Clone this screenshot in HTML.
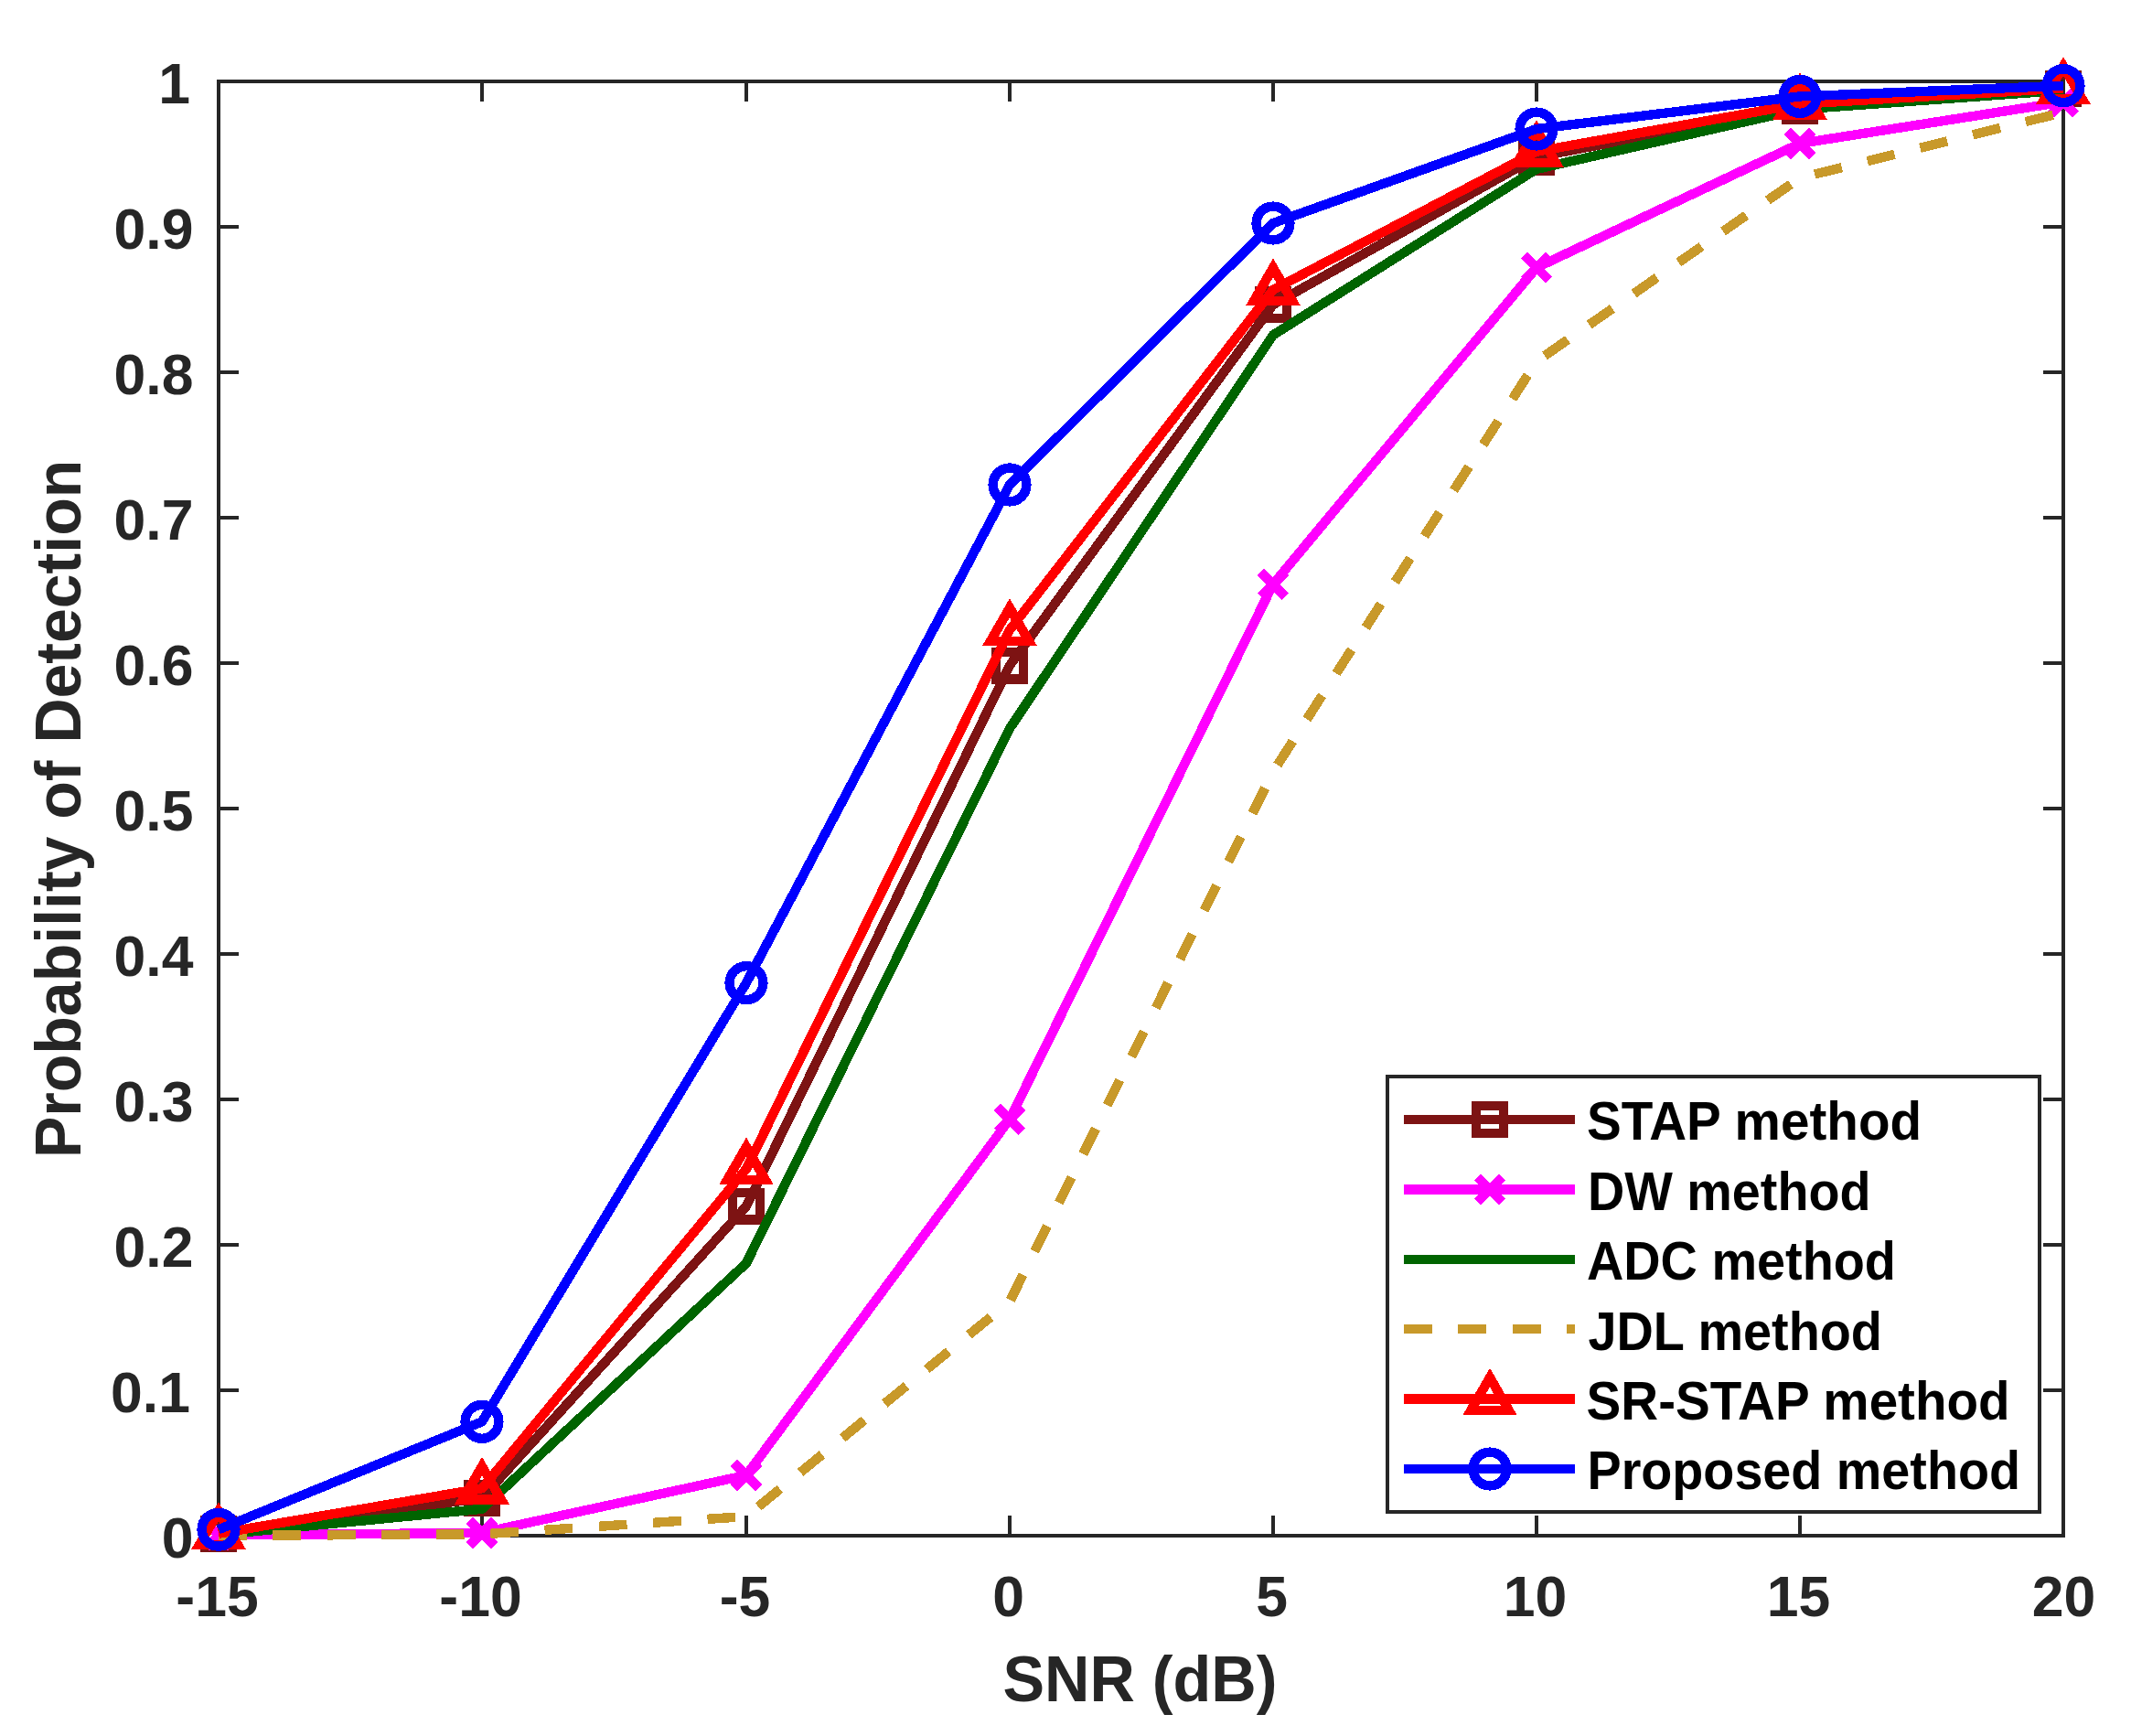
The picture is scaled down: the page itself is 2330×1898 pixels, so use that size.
<!DOCTYPE html>
<html lang="en"><head><meta charset="utf-8"><title>Probability of Detection vs SNR</title>
<style>html,body{margin:0;padding:0;background:#fff}body{width:2330px;height:1898px;overflow:hidden}svg{display:block}text{font-family:"Liberation Sans",Arial,Helvetica,sans-serif;font-weight:bold}</style></head><body>
<svg width="2330" height="1898" viewBox="0 0 2330 1898" shape-rendering="crispEdges">
<rect width="2330" height="1898" fill="#fff"/>
<g id="axes" stroke="#262626" stroke-width="4" fill="none">
<rect x="239" y="89" width="2017" height="1590"/>
<path d="M527 1679V1657M527 89V111M816 1679V1657M816 89V111M1104 1679V1657M1104 89V111M1392 1679V1657M1392 89V111M1680 1679V1657M1680 89V111M1968 1679V1657M1968 89V111M239 1520H261M2256 1520H2234M239 1361H261M2256 1361H2234M239 1202H261M2256 1202H2234M239 1043H261M2256 1043H2234M239 884H261M2256 884H2234M239 725H261M2256 725H2234M239 566H261M2256 566H2234M239 407H261M2256 407H2234M239 248H261M2256 248H2234"/>
</g>
<g id="xticks" fill="#262626" font-size="62.5" text-anchor="middle">
<text transform="translate(237.5 1766.5) scale(1 1)">-15</text>
<text transform="translate(525.5 1766.5) scale(1 1)">-10</text>
<text transform="translate(814.5 1766.5) scale(1 1)">-5</text>
<text transform="translate(1102.5 1766.5) scale(1 1)">0</text>
<text transform="translate(1390.5 1766.5) scale(1 1)">5</text>
<text transform="translate(1678.5 1766.5) scale(1 1)">10</text>
<text transform="translate(1966.5 1766.5) scale(1 1)">15</text>
<text transform="translate(2256.5 1766.5) scale(1 1)">20</text>
</g>
<g id="yticks" fill="#262626" font-size="62.5" text-anchor="end">
<text transform="translate(211.5 1703) scale(1 1)">0</text>
<text transform="translate(208 1544) scale(1 1)">0.1</text>
<text transform="translate(211.5 1385) scale(1 1)">0.2</text>
<text transform="translate(211.5 1226) scale(1 1)">0.3</text>
<text transform="translate(211.5 1067) scale(1 1)">0.4</text>
<text transform="translate(211.5 908) scale(1 1)">0.5</text>
<text transform="translate(211.5 749) scale(1 1)">0.6</text>
<text transform="translate(211.5 590) scale(1 1)">0.7</text>
<text transform="translate(211.5 431) scale(1 1)">0.8</text>
<text transform="translate(211.5 272) scale(1 1)">0.9</text>
<text transform="translate(208 113) scale(1 1)">1</text>
</g>
<text id="xlabel" fill="#262626" font-size="71" text-anchor="middle" transform="translate(1246.5 1859.5) scale(0.963 1)">SNR (dB)</text>
<text id="ylabel" fill="#262626" font-size="71" text-anchor="middle" transform="translate(87.8 884.4) rotate(-90) scale(0.958 1)">Probability of Detection</text>
<g class="series">
<polyline points="239,1677.2 527,1637.8 816,1318.8 1104,727.6 1392,333.1 1680,171.7 1968,116.1 2256,96.9" fill="none" stroke="#7D1313" stroke-width="10.4" stroke-linejoin="round"/>
<rect x="224.25" y="1662.45" width="29.5" height="29.5" fill="none" stroke="#7D1313" stroke-width="10.4"/>
<rect x="512.25" y="1623.05" width="29.5" height="29.5" fill="none" stroke="#7D1313" stroke-width="10.4"/>
<rect x="801.25" y="1304.05" width="29.5" height="29.5" fill="none" stroke="#7D1313" stroke-width="10.4"/>
<rect x="1089.25" y="712.85" width="29.5" height="29.5" fill="none" stroke="#7D1313" stroke-width="10.4"/>
<rect x="1377.25" y="318.35" width="29.5" height="29.5" fill="none" stroke="#7D1313" stroke-width="10.4"/>
<rect x="1665.25" y="156.95" width="29.5" height="29.5" fill="none" stroke="#7D1313" stroke-width="10.4"/>
<rect x="1953.25" y="101.35" width="29.5" height="29.5" fill="none" stroke="#7D1313" stroke-width="10.4"/>
<rect x="2241.25" y="82.15" width="29.5" height="29.5" fill="none" stroke="#7D1313" stroke-width="10.4"/>
</g>
<g class="series">
<polyline points="239,1678.5 527,1675.9 816,1612.9 1104,1223.7 1392,638.7 1680,292.6 1968,156.9 2256,111.4" fill="none" stroke="#FF00FF" stroke-width="10.4" stroke-linejoin="round"/>
<path d="M225.4 1664.9L252.6 1692.1M225.4 1692.1L252.6 1664.9" fill="none" stroke="#FF00FF" stroke-width="10.4"/>
<path d="M513.4 1662.3L540.6 1689.5M513.4 1689.5L540.6 1662.3" fill="none" stroke="#FF00FF" stroke-width="10.4"/>
<path d="M802.4 1599.3L829.6 1626.5M802.4 1626.5L829.6 1599.3" fill="none" stroke="#FF00FF" stroke-width="10.4"/>
<path d="M1090.4 1210.1L1117.6 1237.3M1090.4 1237.3L1117.6 1210.1" fill="none" stroke="#FF00FF" stroke-width="10.4"/>
<path d="M1378.4 625.1L1405.6 652.3M1378.4 652.3L1405.6 625.1" fill="none" stroke="#FF00FF" stroke-width="10.4"/>
<path d="M1666.4 279L1693.6 306.2M1666.4 306.2L1693.6 279" fill="none" stroke="#FF00FF" stroke-width="10.4"/>
<path d="M1954.4 143.3L1981.6 170.5M1954.4 170.5L1981.6 143.3" fill="none" stroke="#FF00FF" stroke-width="10.4"/>
<path d="M2242.4 97.8L2269.6 125M2242.4 125L2269.6 97.8" fill="none" stroke="#FF00FF" stroke-width="10.4"/>
</g>
<g class="series">
<polyline points="239,1678 527,1649.8 816,1381.1 1104,796.4 1392,366.3 1680,184.9 1968,119.5 2256,98.7" fill="none" stroke="#006400" stroke-width="10.4" stroke-linejoin="round"/>
</g>
<g class="series">
<polyline points="239,1679 527,1677.4 816,1658 1104,1423 1392,843.8 1680,395.2 1968,194.5 2256,122.8" fill="none" stroke="#C8992A" stroke-width="10.4" stroke-linejoin="round" stroke-dasharray="30.7 28.75"/>
</g>
<g class="series">
<polyline points="239,1676.7 527,1627.3 816,1278 1104,688.7 1392,316.8 1680,165.7 1968,113.7 2256,96.6" fill="none" stroke="#FF0000" stroke-width="10.4" stroke-linejoin="round"/>
<path d="M239 1652.57L259.9 1688.77L218.1 1688.77Z" fill="none" stroke="#FF0000" stroke-width="10.4" stroke-linejoin="miter" stroke-miterlimit="10"/>
<path d="M527 1603.17L547.9 1639.37L506.1 1639.37Z" fill="none" stroke="#FF0000" stroke-width="10.4" stroke-linejoin="miter" stroke-miterlimit="10"/>
<path d="M816 1253.87L836.9 1290.07L795.1 1290.07Z" fill="none" stroke="#FF0000" stroke-width="10.4" stroke-linejoin="miter" stroke-miterlimit="10"/>
<path d="M1104 664.57L1124.9 700.77L1083.1 700.77Z" fill="none" stroke="#FF0000" stroke-width="10.4" stroke-linejoin="miter" stroke-miterlimit="10"/>
<path d="M1392 292.67L1412.9 328.87L1371.1 328.87Z" fill="none" stroke="#FF0000" stroke-width="10.4" stroke-linejoin="miter" stroke-miterlimit="10"/>
<path d="M1680 141.57L1700.9 177.77L1659.1 177.77Z" fill="none" stroke="#FF0000" stroke-width="10.4" stroke-linejoin="miter" stroke-miterlimit="10"/>
<path d="M1968 89.57L1988.9 125.77L1947.1 125.77Z" fill="none" stroke="#FF0000" stroke-width="10.4" stroke-linejoin="miter" stroke-miterlimit="10"/>
<path d="M2256 72.47L2276.9 108.67L2235.1 108.67Z" fill="none" stroke="#FF0000" stroke-width="10.4" stroke-linejoin="miter" stroke-miterlimit="10"/>
</g>
<g class="series">
<polyline points="239,1672.2 527,1554.4 816,1074.6 1104,530 1392,244 1680,141 1968,105.4 2256,93.7" fill="none" stroke="#0000FF" stroke-width="10.4" stroke-linejoin="round"/>
<circle cx="239" cy="1672.2" r="18.4" fill="none" stroke="#0000FF" stroke-width="10.4"/>
<circle cx="527" cy="1554.4" r="18.4" fill="none" stroke="#0000FF" stroke-width="10.4"/>
<circle cx="816" cy="1074.6" r="18.4" fill="none" stroke="#0000FF" stroke-width="10.4"/>
<circle cx="1104" cy="530" r="18.4" fill="none" stroke="#0000FF" stroke-width="10.4"/>
<circle cx="1392" cy="244" r="18.4" fill="none" stroke="#0000FF" stroke-width="10.4"/>
<circle cx="1680" cy="141" r="18.4" fill="none" stroke="#0000FF" stroke-width="10.4"/>
<circle cx="1968" cy="105.4" r="18.4" fill="none" stroke="#0000FF" stroke-width="10.4"/>
<circle cx="2256" cy="93.7" r="18.4" fill="none" stroke="#0000FF" stroke-width="10.4"/>
</g>
<g id="legend">
<rect x="1517" y="1177" width="713" height="475.5" fill="#fff" stroke="#262626" stroke-width="4"/>
<path d="M1535 1224H1722" fill="none" stroke="#7D1313" stroke-width="10.4"/>
<rect x="1614.25" y="1209.25" width="29.5" height="29.5" fill="none" stroke="#7D1313" stroke-width="10.4"/>
<text fill="#000" font-size="58.5" transform="translate(1735 1246.4) scale(0.9685 1)">STAP method</text>
<path d="M1535 1300.4H1722" fill="none" stroke="#FF00FF" stroke-width="10.4"/>
<path d="M1615.4 1286.8L1642.6 1314M1615.4 1314L1642.6 1286.8" fill="none" stroke="#FF00FF" stroke-width="10.4"/>
<text fill="#000" font-size="58.5" transform="translate(1735.9 1322.8) scale(0.9533 1)">DW method</text>
<path d="M1535 1376.8H1722" fill="none" stroke="#006400" stroke-width="10.4"/>
<text fill="#000" font-size="58.5" transform="translate(1735 1399.2) scale(0.9543 1)">ADC method</text>
<path d="M1535 1453.2H1722" fill="none" stroke="#C8992A" stroke-width="10.4" stroke-dasharray="30.7 28.75"/>
<text fill="#000" font-size="58.5" transform="translate(1736.5 1475.6) scale(0.9543 1)">JDL method</text>
<path d="M1535 1529.6H1722" fill="none" stroke="#FF0000" stroke-width="10.4"/>
<path d="M1629 1506.07L1649.9 1542.27L1608.1 1542.27Z" fill="none" stroke="#FF0000" stroke-width="10.4" stroke-linejoin="miter" stroke-miterlimit="10"/>
<text fill="#000" font-size="58.5" transform="translate(1734.6 1552) scale(0.967 1)">SR-STAP method</text>
<path d="M1535 1606H1722" fill="none" stroke="#0000FF" stroke-width="10.4"/>
<circle cx="1629" cy="1606" r="18.4" fill="none" stroke="#0000FF" stroke-width="10.4"/>
<text fill="#000" font-size="58.5" transform="translate(1735.5 1628.4) scale(0.9523 1)">Proposed method</text>
</g>
</svg></body></html>
